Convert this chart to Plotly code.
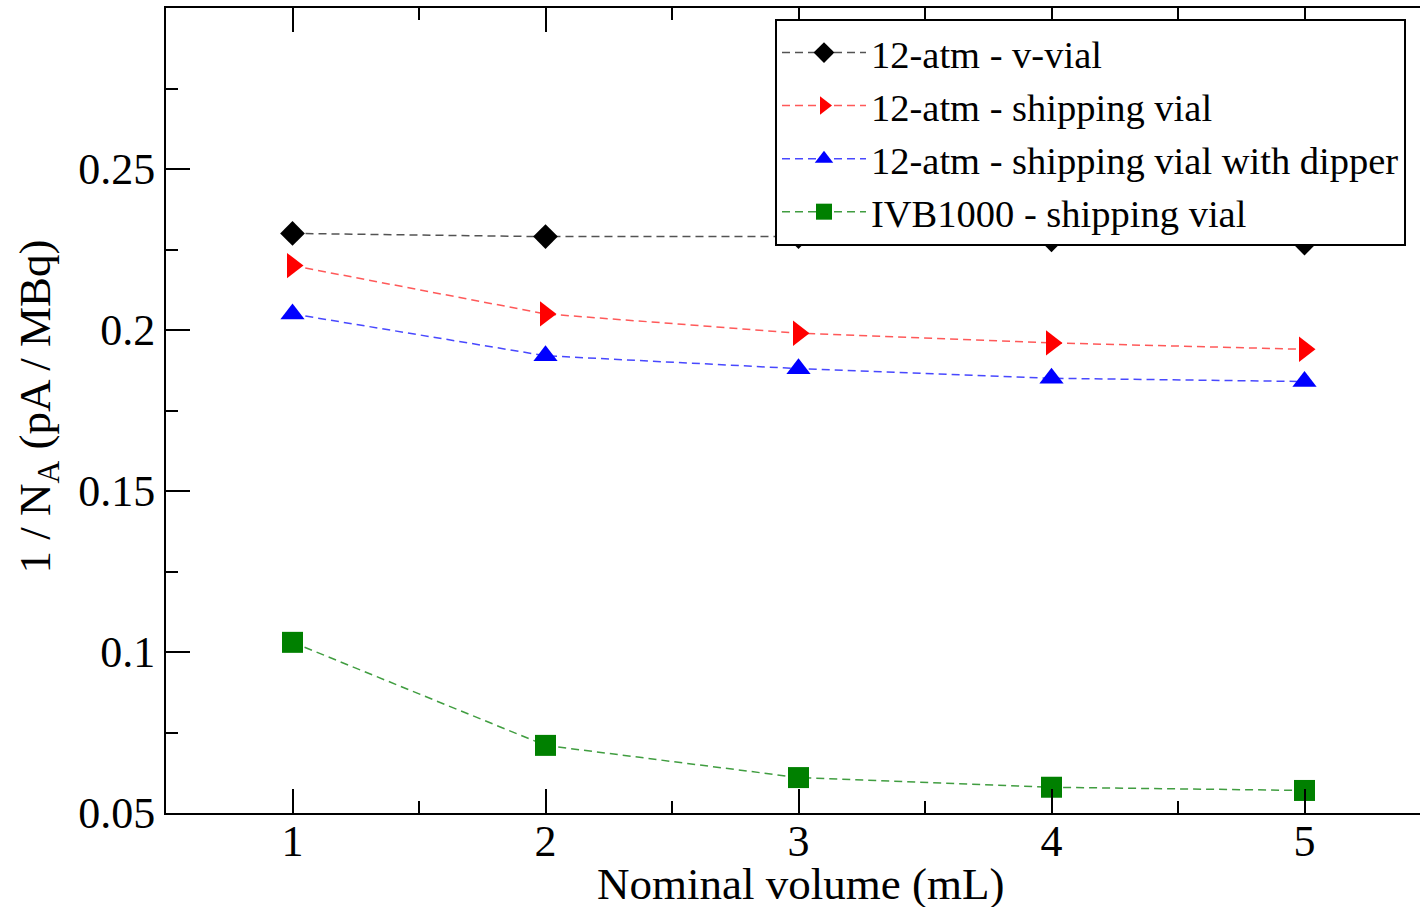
import plotly.graph_objects as go

volumes = [1, 2, 3, 4, 5]
v_vial = [0.230, 0.229, 0.229, 0.228, 0.227]
shipping = [0.220, 0.205, 0.199, 0.196, 0.194]
shipping_dipper = [0.205, 0.192, 0.188, 0.185, 0.184]
ivb1000 = [0.103, 0.071, 0.061, 0.058, 0.057]

names = ["12-atm - v-vial", "12-atm - shipping vial",
         "12-atm - shipping vial with dipper", "IVB1000 - shipping vial"]
series = [v_vial, shipping, shipping_dipper, ivb1000]
marker_colors = ["#000000", "#ff0000", "#0000ff", "#008000"]
line_colors = ["rgba(40,40,40,0.8)", "rgba(255,60,60,0.85)", "rgba(40,40,255,0.85)", "rgba(30,140,30,0.85)"]
symbols = ["diamond", "triangle-right", "triangle-up", "square"]
sizes = [19, 22, 21, 21]

x_title = "Nominal volume (mL)"
y_title = "1 / N<sub>A</sub> (pA / MBq)"

FONT = "Liberation Serif, Times New Roman, serif"

fig = go.Figure()
for name, ys, mc, lc, sym, sz in zip(names, series, marker_colors, line_colors, symbols, sizes):
    fig.add_trace(go.Scatter(
        x=volumes, y=ys, name=name, mode="lines+markers",
        line=dict(color=lc, width=1.5, dash="8px,5px"),
        marker=dict(symbol=sym, size=sz, color=mc, line=dict(width=0)),
    ))

W, H = 1420, 907
ml, mr, mt, mb = 166, 0, 8, 94
PW, PH = W - ml - mr, H - mt - mb

fig.update_layout(
    width=W, height=H,
    margin=dict(l=ml, r=mr, t=mt, b=mb, pad=0, autoexpand=False),
    paper_bgcolor="white", plot_bgcolor="white",
    font=dict(family=FONT, size=44, color="black"),
    showlegend=True,
    legend=dict(
        x=(775 - ml) / PW, y=(H - mb - 19) / PH,
        xanchor="left", yanchor="top",
        bgcolor="white", bordercolor="black", borderwidth=2,
        font=dict(family=FONT, size=38.5, color="black"),
        tracegroupgap=0, itemwidth=84,
    ),
    annotations=[
        dict(
            text=y_title, textangle=-90,
            xref="paper", yref="paper", x=0, y=0.5,
            xanchor="center", yanchor="middle", xshift=37 - ml, yshift=4,
            showarrow=False, font=dict(family=FONT, size=45, color="black"),
        ),
        dict(
            text=x_title,
            xref="paper", yref="paper", x=0.5, y=0,
            xanchor="center", yanchor="middle", xshift=7, yshift=-(884 - (H - mb)),
            showarrow=False, font=dict(family=FONT, size=45, color="black"),
        ),
    ],
)

fig.update_xaxes(
    range=[0.5, 0.5 + PW / 253.0],
    tickvals=volumes, ticktext=[str(v) for v in volumes],
    ticks="inside", ticklen=24, tickwidth=2, tickcolor="black",
    minor=dict(dtick=0.5, tick0=0.5, ticks="inside", ticklen=12, tickwidth=2, tickcolor="black"),
    showline=True, linecolor="black", linewidth=2, mirror="ticks",
    showgrid=False, zeroline=False, automargin=False,
    tickfont=dict(family=FONT, size=44),
    ticklabelstandoff=-12,
    layer="above traces",
)
fig.update_yaxes(
    range=[0.05, 0.3],
    tickvals=[0.05, 0.1, 0.15, 0.2, 0.25],
    ticktext=["0.05", "0.1", "0.15", "0.2", "0.25"],
    ticks="inside", ticklen=24, tickwidth=2, tickcolor="black",
    minor=dict(dtick=0.025, tick0=0.05, ticks="inside", ticklen=12, tickwidth=2, tickcolor="black"),
    showline=True, linecolor="black", linewidth=2, mirror=False,
    showgrid=False, zeroline=False, automargin=False,
    tickfont=dict(family=FONT, size=44),
    layer="above traces",
)

fig.write_html(
    "out.html",
    config={"displayModeBar": False},
    post_script="document.body.style.margin='0';document.body.style.overflow='hidden';",
)
